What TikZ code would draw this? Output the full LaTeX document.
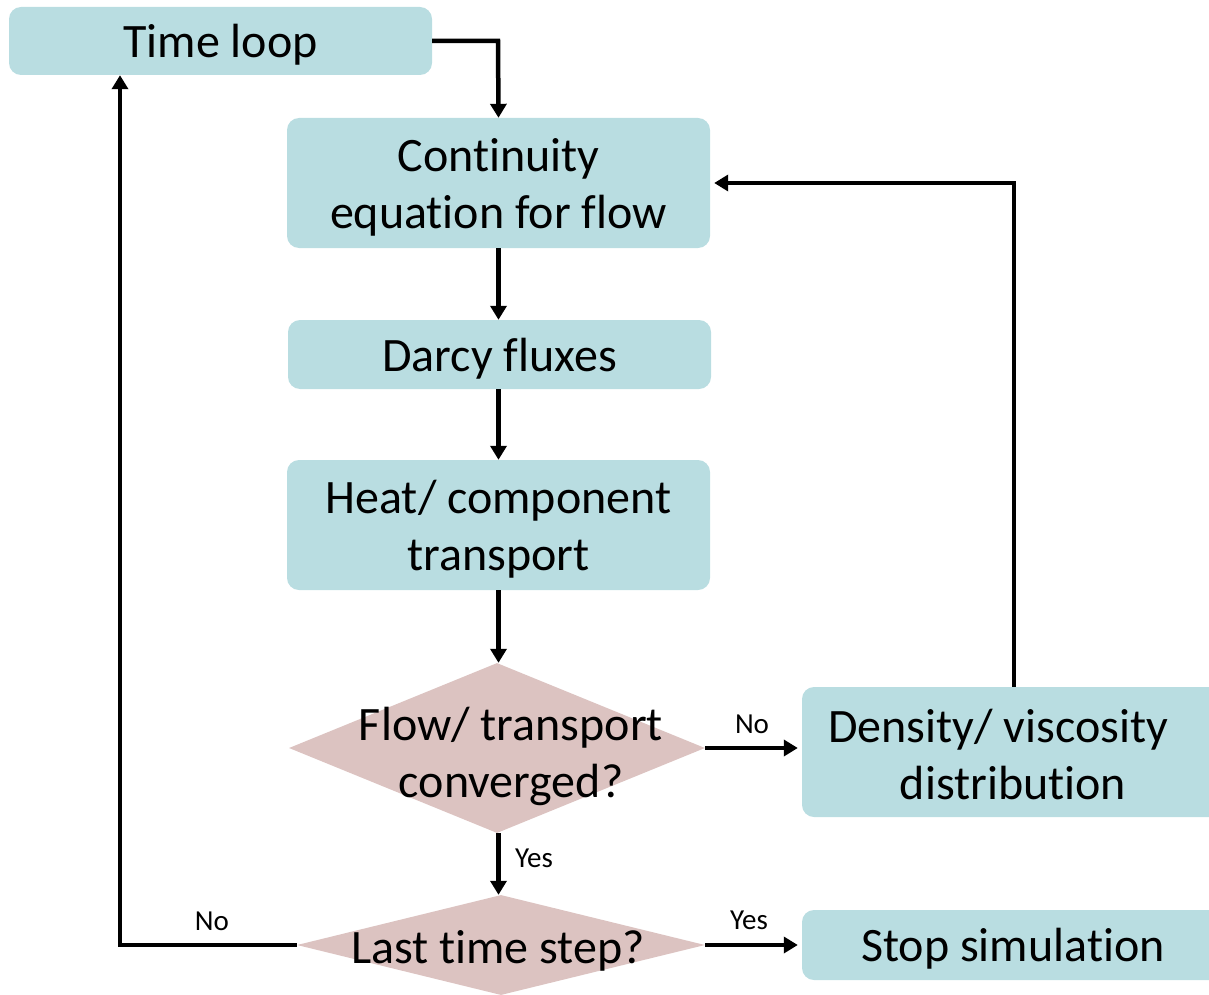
\documentclass[tikz,border=0pt]{standalone}
\usepackage{fontspec}
\setmainfont[Ligatures=NoCommon]{Carlito}
\usetikzlibrary{shapes.geometric,arrows.meta}
\definecolor{boxc}{RGB}{185,221,225}
\definecolor{diac}{RGB}{220,195,193}
\tikzset{
  box/.style={fill=boxc, draw=none, rounded corners=12pt, inner sep=0pt},
  dia/.style={diamond, fill=diac, draw=none, inner sep=0pt},
  txt/.style={inner sep=0pt, font=\fontsize{48}{57}\selectfont, align=center},
  lbl/.style={inner sep=0pt, font=\fontsize{29}{34}\selectfont},
  conn/.style={line width=4.5pt, -{Triangle[length=14pt,width=16pt]}},
}
\begin{document}
\begin{tikzpicture}[x=1pt,y=-1pt]
\useasboundingbox (0,0) rectangle (1209,995);
\node[box, minimum width=423pt, minimum height=68pt] (tl) at (220.5,41) {};
\node[txt] at (220.5,45) {Time loop};
\node[box, minimum width=423pt, minimum height=130pt] (ce) at (498.5,183) {};
\node[txt] at (498.5,187) {Continuity\\equation for flow};
\node[box, minimum width=423pt, minimum height=69pt] (df) at (499.5,354.5) {};
\node[txt] at (499.5,359) {Darcy fluxes};
\node[box, minimum width=423pt, minimum height=130pt] (ht) at (498.5,525) {};
\node[txt] at (498.5,529) {Heat/ component\\transport};
\node[dia, minimum width=416pt, minimum height=170pt] (d1) at (497,748) {};
\node[txt] at (511,756) {Flow/ transport\\converged?};
\node[box, minimum width=422pt, minimum height=130pt] (dv) at (1013,752) {};
\node[txt] at (998,755) {Density/ viscosity\\\hspace*{30pt}distribution};
\node[dia, minimum width=408pt, minimum height=100pt] (d2) at (501,945) {};
\node[txt] at (498,951) {Last time step?};
\node[box, minimum width=422pt, minimum height=70pt] (st) at (1013,945) {};
\node[txt] at (1013,949) {Stop simulation};
\coordinate (c1) at (498,41);
\coordinate (c2) at (1014,183);
\coordinate (c3) at (120,945);
\draw[conn] (tl.east) -- (c1) -- (ce.north);
\draw[conn] (ce.south) -- (df.north -| ce.south);
\draw[conn] (df.south -| ce.south) -- (ht.north);
\draw[conn] (ht.south) -- (d1.north -| ht.south);
\draw[conn] (d1.east) -- ([xshift=-4pt]dv.west |- d1.east);
\draw[conn] (dv.north -| c2) -- (c2) -- ([xshift=4pt]ce.east);
\draw[conn] (d1.south -| ht.south) -- (d2.north -| ht.south);
\draw[conn] (d2.east) -- ([xshift=-4pt]st.west |- d2.east);
\draw[conn] (d2.west) -- (c3) -- (tl.south -| c3);
\node[lbl] at (752,724) {No};
\node[lbl] at (534,858) {Yes};
\node[lbl] at (749,920) {Yes};
\node[lbl] at (212,921) {No};
\end{tikzpicture}
\end{document}
